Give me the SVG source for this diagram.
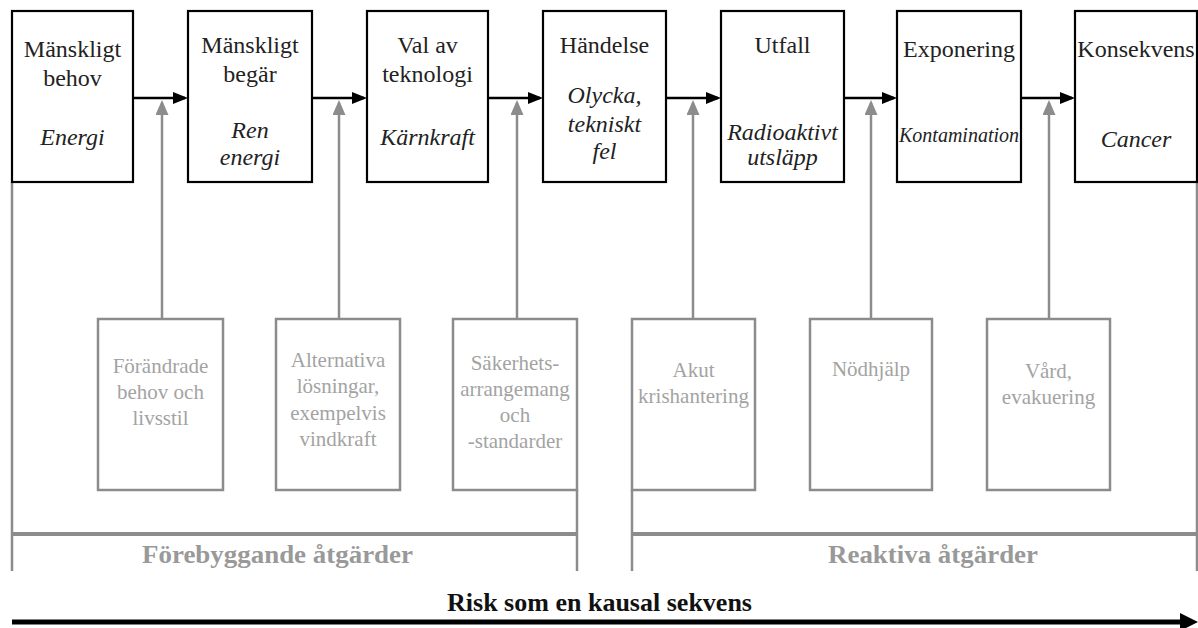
<svg xmlns="http://www.w3.org/2000/svg" width="1198" height="628" viewBox="0 0 1198 628">
<style>
.tb{fill:#fff;stroke:#000;stroke-width:2.2}
.bb{fill:#fff;stroke:#8c8c8c;stroke-width:2.5}
text{font-family:"Liberation Serif","DejaVu Serif",serif}
.t{font-size:24px;fill:#222;text-anchor:middle}
.i{font-style:italic}
.g{font-size:21px;fill:#a3a3a3;text-anchor:middle}
.lbl{font-size:26px;font-weight:bold;fill:#999}
.blk{stroke:#000;stroke-width:2.5;fill:none}
.gry{stroke:#8c8c8c;stroke-width:2.5;fill:none}
.br{stroke:#8c8c8c;stroke-width:4;fill:none}
</style>
<defs>
<marker id="ab" markerUnits="userSpaceOnUse" markerWidth="15" markerHeight="12" refX="12" refY="6" orient="auto">
<path d="M0,0 L15,6 L0,12 z" fill="#000"/>
</marker>
<marker id="ag" markerUnits="userSpaceOnUse" markerWidth="15" markerHeight="13" refX="12" refY="6.5" orient="auto">
<path d="M0,0 L15,6.5 L0,13 z" fill="#8c8c8c"/>
</marker>
</defs>

<g id="connectors">
<line class="blk" x1="133" y1="98" x2="185" y2="98" marker-end="url(#ab)"/>
<line class="blk" x1="312" y1="98" x2="364" y2="98" marker-end="url(#ab)"/>
<line class="blk" x1="488" y1="98" x2="540" y2="98" marker-end="url(#ab)"/>
<line class="blk" x1="666" y1="98" x2="718" y2="98" marker-end="url(#ab)"/>
<line class="blk" x1="844" y1="98" x2="894" y2="98" marker-end="url(#ab)"/>
<line class="blk" x1="1021" y1="98" x2="1072" y2="98" marker-end="url(#ab)"/>
<line class="gry" x1="162" y1="319" x2="162" y2="103" marker-end="url(#ag)"/>
<line class="gry" x1="339" y1="319" x2="339" y2="103" marker-end="url(#ag)"/>
<line class="gry" x1="517" y1="319" x2="517" y2="103" marker-end="url(#ag)"/>
<line class="gry" x1="693" y1="319" x2="693" y2="103" marker-end="url(#ag)"/>
<line class="gry" x1="871" y1="319" x2="871" y2="103" marker-end="url(#ag)"/>
<line class="gry" x1="1049" y1="319" x2="1049" y2="103" marker-end="url(#ag)"/>
</g>

<g id="brackets">
<line class="gry" x1="12" y1="182" x2="12" y2="571"/>
<line class="gry" x1="577" y1="490" x2="577" y2="571"/>
<line class="gry" x1="632" y1="490" x2="632" y2="571"/>
<line class="gry" x1="1197" y1="182" x2="1197" y2="571"/>
<line class="br" x1="12" y1="534" x2="577" y2="534"/>
<line class="br" x1="632" y1="534" x2="1197" y2="534"/>
<text class="lbl" x="142" y="563" textLength="271" lengthAdjust="spacingAndGlyphs">Förebyggande åtgärder</text>
<text class="lbl" x="828" y="563" textLength="210" lengthAdjust="spacingAndGlyphs">Reaktiva åtgärder</text>
</g>

<g id="n1"><rect class="tb" x="12" y="11" width="121" height="171"/>
<text class="t" x="72.5" y="57">Mänskligt</text><text class="t" x="72.5" y="86">behov</text>
<text class="t i" x="72.5" y="145">Energi</text></g>
<g id="n2"><rect class="tb" x="188" y="11" width="124" height="171"/>
<text class="t" x="250" y="53">Mänskligt</text><text class="t" x="250" y="82">begär</text>
<text class="t i" x="250" y="138">Ren</text><text class="t i" x="250" y="165">energi</text></g>
<g id="n3"><rect class="tb" x="367" y="11" width="121" height="171"/>
<text class="t" x="427.5" y="53">Val av</text><text class="t" x="427.5" y="82">teknologi</text>
<text class="t i" x="427.5" y="145">Kärnkraft</text></g>
<g id="n4"><rect class="tb" x="543" y="11" width="123" height="171"/>
<text class="t" x="604.5" y="53">Händelse</text>
<text class="t i" x="604.5" y="103">Olycka,</text><text class="t i" x="604.5" y="132">tekniskt</text><text class="t i" x="604.5" y="159">fel</text></g>
<g id="n5"><rect class="tb" x="721" y="11" width="123" height="171"/>
<text class="t" x="782.5" y="53">Utfall</text>
<text class="t i" x="782.5" y="140">Radioaktivt</text><text class="t i" x="782.5" y="165">utsläpp</text></g>
<g id="n6"><rect class="tb" x="897" y="11" width="124" height="171"/>
<text class="t" x="959" y="57">Exponering</text>
<text class="t i" x="959" y="142" style="font-size:20px">Kontamination</text></g>
<g id="n7"><rect class="tb" x="1075" y="11" width="122" height="171"/>
<text class="t" x="1136" y="57">Konsekvens</text>
<text class="t i" x="1136" y="147">Cancer</text></g>

<g id="m1"><rect class="bb" x="98" y="319" width="125" height="171"/>
<text class="g" x="160.5" y="373">Förändrade</text><text class="g" x="160.5" y="399">behov och</text><text class="g" x="160.5" y="425">livsstil</text></g>
<g id="m2"><rect class="bb" x="276" y="319" width="124" height="171"/>
<text class="g" x="338" y="367">Alternativa</text><text class="g" x="338" y="393">lösningar,</text><text class="g" x="338" y="420">exempelvis</text><text class="g" x="338" y="446">vindkraft</text></g>
<g id="m3"><rect class="bb" x="453" y="319" width="124" height="171"/>
<text class="g" x="515" y="370">Säkerhets-</text><text class="g" x="515" y="396">arrangemang</text><text class="g" x="515" y="422">och</text><text class="g" x="515" y="448">-standarder</text></g>
<g id="m4"><rect class="bb" x="632" y="319" width="123" height="171"/>
<text class="g" x="693.5" y="377">Akut</text><text class="g" x="693.5" y="403">krishantering</text></g>
<g id="m5"><rect class="bb" x="810" y="319" width="122" height="171"/>
<text class="g" x="871" y="376">Nödhjälp</text></g>
<g id="m6"><rect class="bb" x="987" y="319" width="123" height="171"/>
<text class="g" x="1048.5" y="378">Vård,</text><text class="g" x="1048.5" y="404">evakuering</text></g>

<g id="sequence">
<text x="447" y="611" textLength="305" lengthAdjust="spacingAndGlyphs" style="font-size:26px;font-weight:bold;fill:#111">Risk som en kausal sekvens</text>
<line x1="12" y1="622" x2="1184" y2="622" stroke="#000" stroke-width="5"/>
<polygon points="1180,613 1198,622 1180,631" fill="#000"/>
</g>
</svg>
